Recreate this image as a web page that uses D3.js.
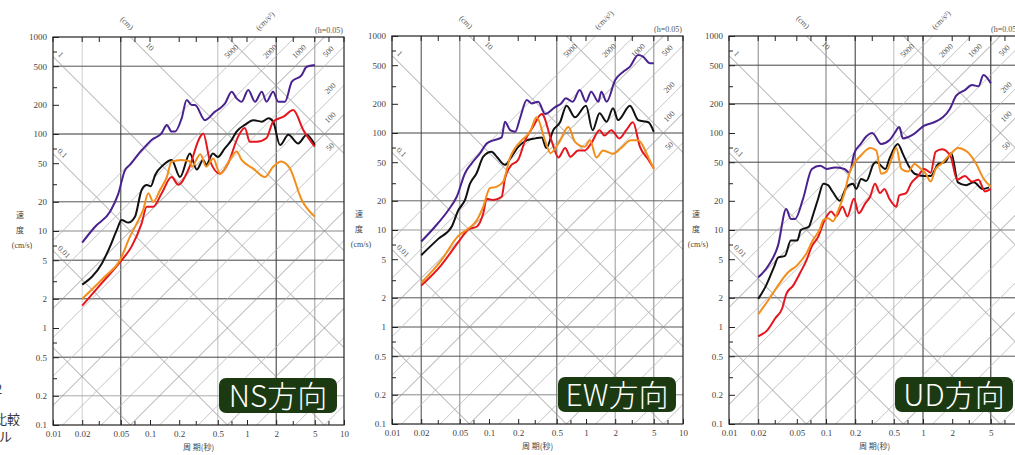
<!DOCTYPE html>
<html>
<head>
<meta charset="utf-8">
<script src="https://cdn.jsdelivr.net/npm/d3@7"></script>
<style>
  body { margin: 0; background: #fff; }
  svg { display: block; }
</style>
</head>
<body>
<div id="chart"></div>
<script>
// periods (s) and pseudo velocity response (cm/s), h=0.05
const nsPurple = [[0.02, 7.6], [0.027, 11], [0.039, 16], [0.047, 24], [0.055, 42], [0.062, 48], [0.082, 68], [0.0925, 77], [0.104, 87], [0.132, 102], [0.149, 124], [0.167, 106], [0.181, 106], [0.212, 145], [0.239, 224], [0.269, 199], [0.291, 199], [0.369, 139], [0.468, 170], [0.527, 184], [0.594, 207], [0.695, 273], [0.78, 233], [0.88, 215], [1.03, 284], [1.21, 215], [1.42, 273], [1.59, 215], [1.86, 273], [2.1, 215], [2.46, 215], [2.9, 346], [3.66, 405], [4.12, 494], [5.0, 514]]
const nsBlack = [[0.02, 2.8], [0.0318, 4.6], [0.0387, 6.9], [0.0454, 10.2], [0.051, 13], [0.0597, 12.2], [0.07, 14], [0.082, 26.5], [0.0925, 29.8], [0.102, 29], [0.113, 37.8], [0.137, 48], [0.167, 54], [0.204, 36], [0.258, 63], [0.303, 43], [0.354, 54], [0.38, 48], [0.445, 63], [0.5, 58], [0.59, 71], [0.695, 87], [0.78, 106], [0.95, 124], [1.16, 139], [1.42, 134], [1.67, 145], [1.86, 134], [2.19, 77], [2.67, 98], [3.37, 80], [4.12, 98], [5.0, 77]]
const nsRed = [[0.02, 1.7], [0.0318, 2.9], [0.051, 5.0], [0.0645, 6.9], [0.082, 12], [0.0925, 17.8], [0.108, 17.8], [0.132, 24.5], [0.167, 36], [0.196, 30], [0.249, 43], [0.33, 94], [0.354, 101], [0.415, 53], [0.527, 39], [0.64, 50], [0.81, 94], [0.95, 115], [1.07, 83], [1.26, 83], [1.59, 91], [1.86, 134], [2.38, 151], [3.0, 177], [3.8, 110], [5.0, 74]]
const nsOrange = [[0.02, 2.0], [0.0343, 3.4], [0.049, 5.0], [0.062, 8.7], [0.073, 12], [0.085, 16.5], [0.096, 24.5], [0.108, 20], [0.127, 26.5], [0.149, 36], [0.167, 52], [0.212, 54], [0.258, 52], [0.27, 46], [0.33, 62], [0.38, 46], [0.448, 56], [0.527, 39], [0.667, 54], [0.78, 66], [0.88, 54], [1.16, 44], [1.53, 36], [1.86, 46], [2.25, 52], [2.77, 44], [3.66, 21], [5.0, 14]]

const ewPurple = [[0.02, 7.6], [0.0277, 10.8], [0.038, 16], [0.0465, 22], [0.0566, 38.5], [0.0663, 48.7], [0.081, 62], [0.0947, 78], [0.111, 84], [0.135, 90], [0.146, 131], [0.165, 107], [0.186, 103], [0.209, 142], [0.245, 219], [0.275, 202], [0.322, 210], [0.378, 157], [0.476, 184], [0.555, 202], [0.62, 228], [0.73, 210], [0.86, 277], [1.0, 210], [1.13, 267], [1.34, 210], [1.44, 267], [1.63, 210], [2.0, 351], [2.42, 428], [2.84, 483], [3.45, 636], [3.87, 612], [4.58, 523], [5.0, 523]]
const ewBlack = [[0.02, 5.5], [0.03, 8.1], [0.0412, 10.8], [0.0483, 16], [0.0566, 20.4], [0.0637, 30], [0.0745, 38.5], [0.0873, 57], [0.106, 64], [0.12, 57], [0.146, 47], [0.178, 61], [0.2, 72], [0.245, 84], [0.3, 88], [0.35, 90], [0.39, 70], [0.46, 107], [0.54, 129], [0.63, 191], [0.77, 145], [1.0, 191], [1.17, 107], [1.38, 160], [1.63, 131], [1.9, 180], [2.14, 136], [2.84, 191], [3.45, 136], [4.4, 129], [5.0, 103]]
const ewRed = [[0.02, 2.67], [0.0319, 4.3], [0.0483, 7.5], [0.0617, 10.2], [0.0745, 10.8], [0.0873, 14.9], [0.0947, 21], [0.111, 20.4], [0.135, 22], [0.146, 34], [0.165, 45], [0.2, 53], [0.236, 84], [0.285, 116], [0.35, 157], [0.44, 84], [0.52, 56], [0.61, 70], [0.69, 57], [0.83, 66], [0.97, 66], [1.13, 78], [1.38, 107], [1.55, 94], [1.82, 107], [2.21, 88], [2.6, 107], [3.05, 129], [3.6, 72], [4.4, 53], [5.0, 43]]
const ewOrange = [[0.02, 2.85], [0.0319, 4.8], [0.0483, 8.7], [0.0617, 10.4], [0.0745, 12.5], [0.0873, 17.4], [0.102, 27], [0.12, 28], [0.14, 31.6], [0.165, 56], [0.186, 70], [0.217, 84], [0.265, 103], [0.31, 145], [0.378, 84], [0.43, 62], [0.52, 78], [0.66, 115], [0.77, 81], [0.97, 72], [1.1, 84], [1.28, 56], [1.5, 66], [1.9, 61], [2.3, 70], [2.9, 84], [3.45, 84], [4.4, 56], [5.0, 42.6]]

const udPurple = [[0.02, 3.25], [0.0255, 4.3], [0.032, 6.9], [0.0389, 16.5], [0.0434, 13], [0.048, 13], [0.058, 21], [0.0715, 42.6], [0.0872, 46], [0.101, 42.6], [0.123, 44], [0.155, 42.6], [0.174, 39], [0.196, 62], [0.23, 78], [0.26, 92], [0.3, 100], [0.37, 77], [0.45, 84], [0.51, 100], [0.57, 115], [0.62, 88], [0.81, 98], [1.03, 119], [1.3, 129], [1.6, 145], [1.89, 177], [2.2, 243], [2.7, 277], [3.2, 313], [3.73, 303], [4.2, 396], [5.0, 325]]
const udBlack = [[0.02, 1.95], [0.0241, 2.67], [0.0295, 4.3], [0.032, 5.2], [0.0377, 5.4], [0.0434, 7.8], [0.0506, 7.8], [0.055, 10], [0.0664, 10.8], [0.0744, 14.9], [0.083, 21], [0.094, 30], [0.105, 29], [0.118, 24.5], [0.139, 20], [0.162, 27.5], [0.19, 30], [0.205, 26.5], [0.23, 33.6], [0.26, 32], [0.31, 48], [0.33, 50], [0.41, 42.6], [0.45, 54], [0.55, 77], [0.62, 61], [0.71, 46], [0.82, 38], [1.03, 36], [1.2, 36], [1.44, 48], [1.68, 50], [1.96, 62], [2.29, 31], [2.78, 29], [3.35, 31], [4.1, 26.5], [4.8, 27.5]]
const udRed = [[0.02, 0.8], [0.0249, 0.93], [0.03, 1.23], [0.0354, 1.56], [0.039, 2.2], [0.0458, 2.67], [0.054, 3.6], [0.063, 4.9], [0.071, 6.7], [0.083, 8.5], [0.097, 12.7], [0.113, 15.5], [0.127, 13.8], [0.148, 17.4], [0.166, 13.8], [0.194, 21], [0.218, 14.9], [0.254, 18.8], [0.285, 22], [0.32, 30], [0.36, 24], [0.4, 26.5], [0.45, 21], [0.53, 17.4], [0.57, 22.8], [0.67, 24], [0.75, 30], [0.88, 35.6], [1.03, 42.6], [1.2, 39], [1.35, 64], [1.58, 68], [1.93, 57], [2.25, 33], [2.7, 36], [3.2, 31.5], [3.73, 33], [4.36, 25], [5.0, 26.5]]
const udOrange = [[0.02, 1.35], [0.0255, 1.9], [0.032, 2.67], [0.04, 3.6], [0.0506, 4.35], [0.063, 5.75], [0.0733, 7.9], [0.0856, 10], [0.094, 12.7], [0.105, 13.2], [0.118, 12.3], [0.134, 16], [0.155, 24], [0.174, 38.5], [0.196, 48.7], [0.23, 59], [0.285, 70], [0.33, 66], [0.37, 38], [0.42, 40], [0.47, 52.7], [0.53, 70], [0.6, 42.6], [0.7, 40], [0.82, 48], [0.92, 44], [1.07, 38], [1.2, 31.6], [1.35, 42.6], [1.58, 49], [1.96, 62], [2.3, 70], [2.85, 64], [3.5, 49], [4.2, 34], [5.0, 28]]

const xTicks = [0.01, 0.02, 0.05, 0.1, 0.2, 0.5, 1, 2, 5, 10]
const xTickLabels = ['0.01', '0.02', '0.05', '0.1', '0.2', '0.5', '1', '2', '5', '10']
const yTicks = [1000, 500, 200, 100, 50, 20, 10, 5, 2, 1, 0.5, 0.2, 0.1]
const yTickLabels = ['1000', '500', '200', '100', '50', '20', '10', '5', '2', '1', '0.5', '0.2', '0.1']
const dispLines = [0.001, 0.01, 0.1, 1, 10, 100]
const dispLabels = [0.01, 0.1, 1, 10]
const accLines = [0.1, 0.2, 0.5, 1, 2, 5, 10, 20, 50, 100, 200, 500, 1000, 2000, 5000]
const accTopLabels = [5000, 2000, 1000, 500]
const accSideLabels = [200, 100, 50]
const seriesColors = ['#4a2290', '#111111', '#e5161d', '#f18e1c']

const W = 291
const H = 388
const TWO_PI = 2 * Math.PI

const panels = [
  {
    name: 'NS方向', left: 53, top: 37,
    series: [nsPurple, nsBlack, nsRed, nsOrange],
    vgrid: [[0.02, '#cfcfcf'], [0.05, '#333'], [0.5, '#bdbdbd'], [2, '#333'], [5, '#999']],
    hgrid: [[500, '#555'], [100, '#333'], [20, '#555'], [10, '#888'], [5, '#444'], [2, '#444'], [0.5, '#444'], [0.2, '#aaa']]
  },
  {
    name: 'EW方向', left: 392, top: 36,
    series: [ewPurple, ewBlack, ewRed, ewOrange],
    vgrid: [[0.02, '#444'], [0.05, '#888'], [0.5, '#555'], [2, '#999'], [5, '#888']],
    hgrid: [[100, '#444'], [20, '#666'], [10, '#999'], [2, '#555'], [1, '#555'], [0.5, '#555'], [0.2, '#888']]
  },
  {
    name: 'UD方向', left: 729, top: 36,
    series: [udPurple, udBlack, udRed, udOrange],
    vgrid: [[0.02, '#888'], [0.1, '#777'], [0.2, '#333'], [0.5, '#bbb'], [1, '#333'], [5, '#222']],
    hgrid: [[500, '#444'], [200, '#444'], [50, '#444'], [10, '#777'], [2, '#444'], [0.5, '#555']]
  }
]

const svg = d3.select('#chart')
  .append('svg')
  .attr('width', 1015)
  .attr('height', 455)

svg.append('rect').attr('width', 1015).attr('height', 455).attr('fill', '#fff')

const x = d3.scaleLog().domain([0.01, 10]).range([0, W])
const y = d3.scaleLog().domain([0.1, 1000]).range([H, 0])

const serif = 'Liberation Serif, DejaVu Serif, serif'
const jp = 'Noto Sans CJK JP, Noto Sans, sans-serif'

// minor tick positions (3 and 7 of each decade)
const minorX = [0.03, 0.07, 0.3, 0.7, 3, 7]
const minorY = [0.3, 0.7, 3, 7, 30, 70, 300, 700]

panels.forEach((p, i) => {
  const g = svg.append('g').attr('transform', `translate(${p.left},${p.top})`)

  g.append('clipPath').attr('id', 'clip' + i)
    .append('rect').attr('width', W).attr('height', H)

  const plot = g.append('g').attr('clip-path', `url(#clip${i})`)

  // grid
  plot.selectAll('.vgrid').data(p.vgrid).join('line')
    .attr('x1', d => x(d[0])).attr('x2', d => x(d[0]))
    .attr('y1', 0).attr('y2', H)
    .attr('stroke', d => d[1]).attr('stroke-width', 1)

  plot.selectAll('.hgrid').data(p.hgrid).join('line')
    .attr('y1', d => y(d[0])).attr('y2', d => y(d[0]))
    .attr('x1', 0).attr('x2', W)
    .attr('stroke', d => d[1]).attr('stroke-width', 1)

  // displacement lines  V = 2πD/T
  plot.selectAll('.disp').data(dispLines).join('line')
    .attr('x1', x(0.01)).attr('y1', d => y(TWO_PI * d / 0.01))
    .attr('x2', x(10)).attr('y2', d => y(TWO_PI * d / 10))
    .attr('stroke', '#8a8a8a').attr('stroke-width', 0.8)

  // acceleration lines  V = A T / 2π
  plot.selectAll('.acc').data(accLines).join('line')
    .attr('x1', x(0.01)).attr('y1', d => y(d * 0.01 / TWO_PI))
    .attr('x2', x(10)).attr('y2', d => y(d * 10 / TWO_PI))
    .attr('stroke', d => [1, 10, 100, 1000].includes(d) ? '#8f8f8f' : '#b5b5b5')
    .attr('stroke-width', 0.8)

  // labels on the diagonal lines
  const lab = g.append('g')
    .attr('font-family', serif).attr('font-size', 8).attr('fill', '#555')
    .attr('text-anchor', 'middle')

  lab.selectAll('.dl').data(dispLabels).join('text')
    .attr('transform', d => {
      const t = d >= 10 ? 0.0954 : 0.0115 * Math.pow(1.04, -Math.log10(d))
      return `translate(${x(t)},${y(TWO_PI * d / t) - 6}) rotate(45)`
    })
    .text(d => d)

  lab.selectAll('.al').data(accTopLabels).join('text')
    .attr('transform', d => {
      const t = 560 * TWO_PI / d
      return `translate(${x(t) + 1},${y(560) - 8}) rotate(-45)`
    })
    .text(d => d)

  lab.selectAll('.as').data(accSideLabels).join('text')
    .attr('transform', d => `translate(279,${y(d * 7.52 / TWO_PI) - 7}) rotate(-45)`)
    .text(d => d)

  lab.append('text').attr('transform', 'translate(72,-12) rotate(45)').text('(cm)')
  lab.append('text').attr('transform', 'translate(214,-14) rotate(-45)').text('(cm/s²)')
  lab.append('text').attr('transform', 'translate(276,-4)').text('(h=0.05)')

  // response curves
  const line = d3.line()
    .x(d => x(d[0]))
    .y(d => y(d[1]))
    .curve(d3.curveMonotoneX)

  plot.selectAll('.curve').data(p.series).join('path')
    .attr('d', line)
    .attr('fill', 'none')
    .attr('stroke', (d, k) => seriesColors[k])
    .attr('stroke-width', 2)
    .attr('stroke-linejoin', 'round')

  // frame
  g.append('rect').attr('width', W).attr('height', H)
    .attr('fill', 'none').attr('stroke', '#222').attr('stroke-width', 1.2)

  // axes
  const xAxis = d3.axisBottom(x).tickValues(xTicks)
    .tickFormat((d, k) => xTickLabels[k]).tickSize(-5).tickPadding(6)
  const yAxis = d3.axisLeft(y).tickValues(yTicks)
    .tickFormat((d, k) => yTickLabels[k]).tickSize(-6).tickPadding(6)

  const gx = g.append('g').attr('transform', `translate(0,${H})`).call(xAxis)
  const gy = g.append('g').call(yAxis)
  ;[gx, gy].forEach(a => {
    a.select('.domain').remove()
    a.selectAll('line').attr('stroke', '#222')
    a.selectAll('text').attr('font-family', serif).attr('font-size', 9).attr('fill', '#444')
  })

  // minor ticks
  g.selectAll('.mxb').data(minorX).join('line')
    .attr('x1', d => x(d)).attr('x2', d => x(d)).attr('y1', H).attr('y2', H - 4)
    .attr('stroke', '#222')
  g.selectAll('.mxt').data(minorX.concat(xTicks)).join('line')
    .attr('x1', d => x(d)).attr('x2', d => x(d)).attr('y1', 0).attr('y2', 5)
    .attr('stroke', '#222')
  g.selectAll('.my').data(minorY).join('line')
    .attr('y1', d => y(d)).attr('y2', d => y(d)).attr('x1', 0).attr('x2', 4)
    .attr('stroke', '#222')

  // axis titles
  const yt = g.append('g').attr('font-family', jp).attr('font-size', 8).attr('fill', '#444')
    .attr('text-anchor', 'middle')
  yt.append('text').attr('x', -33).attr('y', 181).text('速')
  yt.append('text').attr('x', -33).attr('y', 196).text('度')
  yt.append('text').attr('x', -31).attr('y', 211).attr('font-family', serif).text('(cm/s)')

  g.append('text').attr('x', W / 2).attr('y', 413)
    .attr('text-anchor', 'middle').attr('font-family', jp).attr('font-size', 8)
    .attr('fill', '#444').text('周 期(秒)')

  // direction badge
  g.append('rect').attr('x', 166).attr('y', 341).attr('width', 118).attr('height', 35)
    .attr('rx', 7).attr('fill', '#1b3a12')
  g.append('text').attr('x', 225).attr('y', 370)
    .attr('text-anchor', 'middle').attr('font-family', jp).attr('font-weight', 300)
    .attr('font-size', 30).attr('fill', '#fff').text(p.name)
})

// clipped text from the slide on the left
const side = svg.append('g').attr('font-family', jp).attr('font-size', 13).attr('fill', '#333')
side.append('text').attr('x', -5).attr('y', 394).text('2')
side.append('text').attr('x', -6).attr('y', 424).text('比較')
side.append('text').attr('x', -1).attr('y', 441).text('ル')
</script>
</body>
</html>
